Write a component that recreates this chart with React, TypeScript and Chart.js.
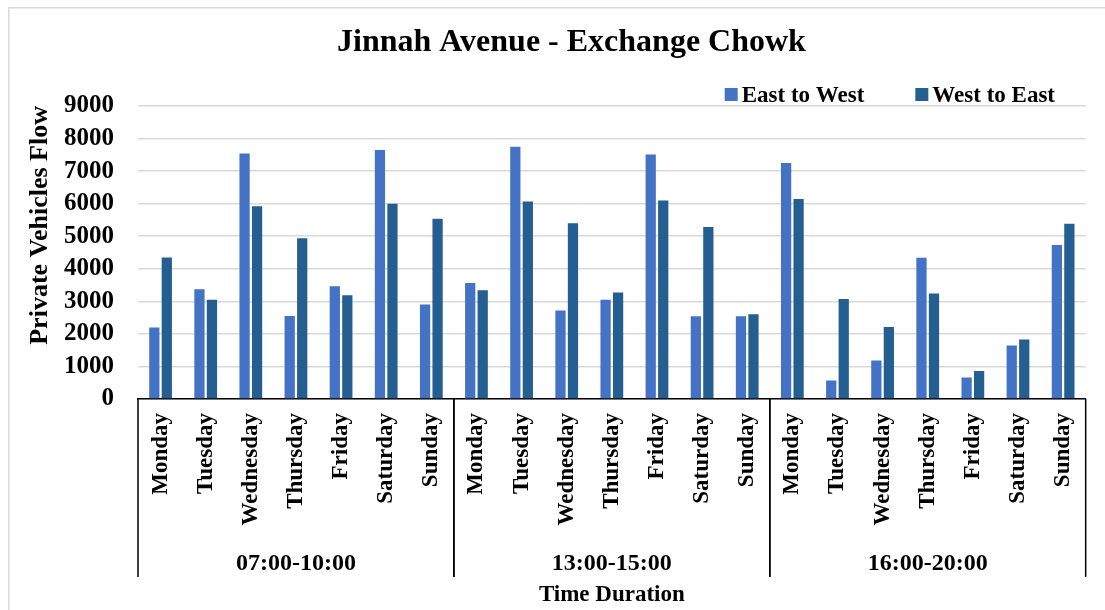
import { useEffect, useRef } from "react";
import { Chart, registerables } from "chart.js";

Chart.register(...registerables);

// Traffic counts at Jinnah Avenue - Exchange Chowk, per day within each time window
const days = ["Monday", "Tuesday", "Wednesday", "Thursday", "Friday", "Saturday", "Sunday"];
const timeSlots = ["07:00-10:00", "13:00-15:00", "16:00-20:00"];

const eastToWest = [
  2200, 3370, 7540, 2550, 3460, 7650, 2900,
  3560, 7750, 2720, 3050, 7510, 2540, 2540,
  7250, 570, 1180, 4340, 660, 1640, 4730,
];
const westToEast = [
  4350, 3050, 5920, 4940, 3190, 6000, 5540,
  3340, 6070, 5400, 3270, 6100, 5280, 2600,
  6140, 3070, 2210, 3240, 860, 1830, 5380,
];

const seriesNames = ["East to West", "West to East"];
const seriesColors = ["#4472C4", "#255E91"];

const yMin = 0;
const yMax = 9000;
const yStep = 1000;

const chartTitle = "Jinnah Avenue - Exchange Chowk";
const yTitle = "Private Vehicles Flow";
const xTitle = "Time Duration";

const SERIF = "'Liberation Serif', 'Times New Roman', Times, serif";
const W = 1097;
const H = 603;

// Draws the frame, the title, the legend and the grouped time-window axis level
const decorPlugin = {
  id: "decor",
  beforeDraw(chart: any) {
    const { ctx } = chart;
    ctx.save();
    ctx.fillStyle = "#ffffff";
    ctx.fillRect(0, 0, chart.width, chart.height);
    ctx.strokeStyle = "#d9d9d9";
    ctx.lineWidth = 1.5;
    ctx.beginPath();
    ctx.moveTo(0.75, chart.height);
    ctx.lineTo(0.75, 0.75);
    ctx.lineTo(chart.width, 0.75);
    ctx.stroke();
    ctx.restore();
  },
  afterDraw(chart: any) {
    const { ctx, chartArea } = chart;
    const x = chart.scales.x;
    ctx.save();

    // title
    ctx.fillStyle = "#000000";
    ctx.font = `bold 32px ${SERIF}`;
    ctx.textAlign = "center";
    ctx.textBaseline = "alphabetic";
    ctx.fillText(chartTitle, 563.5, 44);

    // legend, right aligned
    ctx.font = `bold 23px ${SERIF}`;
    ctx.textAlign = "left";
    const box = 13;
    const gap = 4;
    const spacing = 51;
    const items = chart.data.datasets.map((ds: any) => ({
      label: ds.label,
      color: ds.backgroundColor,
      w: ctx.measureText(ds.label).width,
    }));
    const total =
      items.reduce((s: number, it: any) => s + box + gap + it.w, 0) + spacing * (items.length - 1);
    let lx = 1047 - total;
    for (const it of items) {
      ctx.fillStyle = it.color;
      ctx.fillRect(lx, 81, box, box);
      ctx.fillStyle = "#000000";
      ctx.fillText(it.label, lx + box + gap, 95);
      lx += box + gap + it.w + spacing;
    }

    // time-window group boxes
    const half = (x.getPixelForValue(1) - x.getPixelForValue(0)) / 2;
    const sepBottom = 570;
    ctx.strokeStyle = "#000000";
    ctx.lineWidth = 1.5;
    ctx.font = `bold 24px ${SERIF}`;
    ctx.textAlign = "center";
    ctx.fillStyle = "#000000";
    for (let g = 0; g < timeSlots.length; g++) {
      const first = g * days.length;
      const last = first + days.length - 1;
      const left = x.getPixelForValue(first) - half;
      const right = x.getPixelForValue(last) + half;
      ctx.beginPath();
      ctx.moveTo(left, chartArea.bottom);
      ctx.lineTo(left, sepBottom);
      ctx.moveTo(right, chartArea.bottom);
      ctx.lineTo(right, sepBottom);
      ctx.stroke();
      ctx.fillText(timeSlots[g], (left + right) / 2, 563);
    }
    ctx.restore();
  },
};

export default function App() {
  const canvasRef = useRef<HTMLCanvasElement | null>(null);

  useEffect(() => {
    const canvas = canvasRef.current;
    if (!canvas) return;

    const labels = timeSlots.flatMap(() => days);

    const chart = new Chart(canvas, {
      type: "bar",
      data: {
        labels,
        datasets: [
          {
            label: seriesNames[0],
            data: eastToWest,
            backgroundColor: seriesColors[0],
            categoryPercentage: 0.554,
            barPercentage: 0.82,
          },
          {
            label: seriesNames[1],
            data: westToEast,
            backgroundColor: seriesColors[1],
            categoryPercentage: 0.554,
            barPercentage: 0.82,
          },
        ],
      },
      options: {
        responsive: false,
        animation: false,
        devicePixelRatio: 1,
        layout: { padding: { top: 99, left: 0, right: 12, bottom: 0 } },
        plugins: {
          legend: { display: false },
          title: { display: false },
          tooltip: { enabled: false },
        },
        scales: {
          x: {
            grid: { display: false, drawTicks: false },
            border: { display: true, color: "#000000", width: 1.5 },
            ticks: {
              autoSkip: false,
              minRotation: 90,
              maxRotation: 90,
              padding: 14,
              color: "#000000",
              font: { family: SERIF, size: 23, weight: "bold" },
            },
            title: {
              display: true,
              text: xTitle,
              color: "#000000",
              font: { family: SERIF, size: 23, weight: "bold", lineHeight: 1.2 },
              padding: { top: 0, bottom: 1 },
            },
            afterFit(scale: any) {
              scale.height = 211;
            },
          },
          y: {
            min: yMin,
            max: yMax,
            grid: { color: "#d9d9d9", lineWidth: 1.5, drawTicks: false },
            border: { display: false },
            ticks: {
              stepSize: yStep,
              autoSkip: false,
              padding: 24,
              color: "#000000",
              font: { family: SERIF, size: 25, weight: "bold" },
              callback: (v: any) => String(v),
            },
            title: {
              display: true,
              text: yTitle,
              align: "end",
              color: "#000000",
              font: { family: SERIF, size: 26, weight: "bold", lineHeight: 1.2 },
              padding: { top: 17, bottom: 0 },
            },
            afterFit(scale: any) {
              scale.width = 130;
            },
          },
        },
      },
      plugins: [decorPlugin],
    } as any);

    return () => chart.destroy();
  }, []);

  return (
    <div style={{ position: "absolute", left: 8, top: 7, width: W, height: H }}>
      <canvas ref={canvasRef} width={W} height={H} style={{ width: W, height: H, display: "block" }} />
    </div>
  );
}
